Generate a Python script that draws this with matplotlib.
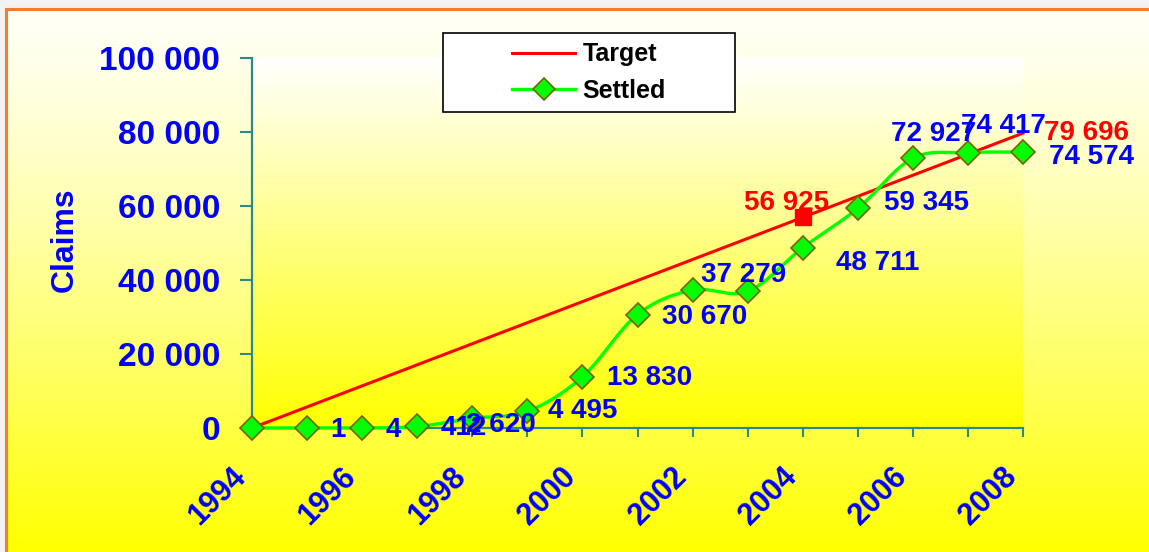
import numpy as np
import matplotlib
matplotlib.use("Agg")
import matplotlib.pyplot as plt
from matplotlib.lines import Line2D
from matplotlib.patches import Rectangle

# ---------------- data ----------------
years = [1994, 1995, 1996, 1997, 1998, 1999, 2000, 2001,
         2002, 2003, 2004, 2005, 2006, 2007, 2008]
settled = [0, 1, 4, 412, 2620, 4495, 13830, 30670,
           37279, 36900, 48711, 59345, 72927, 74417, 74574]
settled_labels = ["", "1", "4", "412", "2 620", "4 495", "13 830", "30 670",
                  "37 279", "", "48 711", "59 345", "72 927", "74 417", "74 574"]
target_years = [1994, 2004, 2008]
target = [0, 56925, 79696]
target_labels = ["", "56 925", "79 696"]
y_ticks = [0, 20000, 40000, 60000, 80000, 100000]
y_tick_labels = ["0", "20 000", "40 000", "60 000", "80 000", "100 000"]
x_tick_labels = ["1994", "", "1996", "", "1998", "", "2000", "",
                 "2002", "", "2004", "", "2006", "", "2008"]
y_title = "Claims"
series_names = ["Target", "Settled"]

# label offsets in pixels (placement only)
settled_offsets = [(0, 0), (23, -2), (23, -2), (23, -2), (-6, -7), (21, 0),
                   (25, -1), (25, -2), (8, 15), (0, 0), (33, -15), (26, 5),
                   (-22, 24), (-7, 27), (26, -5)]
target_offsets = [(0, 0), (-59, 14), (21, 0)]

W, H = 1149, 552
BLUE = "#0000FF"
TEAL = "#2a8a8a"
FONT = ["Liberation Sans", "DejaVu Sans"]
plt.rcParams["font.family"] = FONT

fig = plt.figure(figsize=(W / 100, H / 100), dpi=100, facecolor="#f2f2f2")

# figure background gradient (white -> yellow), starting inside the orange border
bx0, by0 = 6, 9
bg = fig.add_axes([bx0 / W, 0, 1 - bx0 / W, 1 - by0 / H], zorder=-10)
f = np.linspace(0, 1, 256) ** 1.25
grad = np.ones((256, 1, 3))
grad[:, 0, 2] = np.clip(0.97 * (1 - f), 0, 1)
bg.imshow(grad, aspect="auto", extent=[0, 1, 0, 1], origin="upper")
bg.set_xlim(0, 1)
bg.set_ylim(0, 1)
bg.axis("off")

# orange border
fig.add_artist(Line2D([bx0 / W, 1], [1 - by0 / H] * 2, transform=fig.transFigure,
                      color="#fb7a2a", lw=2.2))
fig.add_artist(Line2D([bx0 / W] * 2, [0, 1 - by0 / H], transform=fig.transFigure,
                      color="#fb7a2a", lw=2.2))

# main axes
L, R, T, B = 252, 1023, 58, 428
ax = fig.add_axes([L / W, 1 - B / H, (R - L) / W, (B - T) / H])
ax.set_xlim(years[0], years[-1])
ax.set_ylim(0, 100000)
ax.patch.set_alpha(0)

# plot-area gradient
g2 = np.ones((256, 1, 3))
g2[:, 0, 2] = 1 - np.linspace(0, 1, 256)
ax.imshow(g2, aspect="auto", extent=[years[0], years[-1], 0, 100000],
          origin="upper", zorder=0)

# target line
ax.plot(target_years, target, color="#ff0000", lw=2.2, zorder=3, clip_on=False)
ax.plot(target_years[1:2], target[1:2], "s", color="#ff0000", ms=12,
        zorder=4, clip_on=False)


# smoothed settled line (Catmull-Rom through the data points)
def smooth(xs, ys, n=30):
    P = np.column_stack([xs, ys]).astype(float)
    P = np.vstack([P[0], P, P[-1]])
    out = []
    t = np.linspace(0, 1, n)[:, None]
    for i in range(1, len(P) - 2):
        p0, p1, p2, p3 = P[i - 1], P[i], P[i + 1], P[i + 2]
        c1 = p1 + (p2 - p0) / 6
        c2 = p2 - (p3 - p1) / 6
        seg = ((1 - t) ** 3) * p1 + 3 * ((1 - t) ** 2) * t * c1 + \
            3 * (1 - t) * t ** 2 * c2 + t ** 3 * p2
        out.append(seg if i == 1 else seg[1:])
    out = np.vstack(out)
    return out[:, 0], out[:, 1]


sx, sy = smooth(years, settled)
ax.plot(sx, sy, color="#00ff00", lw=2.4, zorder=5, clip_on=False)
ax.plot(years, settled, "D", ms=12, mfc="#00ff00", mec="#7a6200", mew=1.2,
        zorder=6, clip_on=False)

# data labels
for xv, yv, lab, off in zip(years, settled, settled_labels, settled_offsets):
    if lab:
        ax.annotate(lab, (xv, yv), xytext=off, textcoords="offset pixels",
                    ha="left", va="center", color=BLUE, fontsize=20,
                    fontweight="bold", zorder=8, annotation_clip=False)
for xv, yv, lab, off in zip(target_years, target, target_labels, target_offsets):
    if lab:
        ax.annotate(lab, (xv, yv), xytext=off, textcoords="offset pixels",
                    ha="left", va="center", color="#ff0000", fontsize=20,
                    fontweight="bold", zorder=7, annotation_clip=False)

# axes styling
for s in ["top", "right"]:
    ax.spines[s].set_visible(False)
for s in ["left", "bottom"]:
    ax.spines[s].set_color(TEAL)
    ax.spines[s].set_linewidth(1.6)
    ax.spines[s].set_zorder(2)
ax.set_yticks(y_ticks)
ax.set_yticklabels(y_tick_labels)
ax.set_xticks(years)
ax.set_xticklabels(x_tick_labels, rotation=45, ha="right", va="top")
ax.tick_params(axis="y", direction="out", length=9, width=1.5, color=TEAL,
               pad=14, labelsize=24, labelcolor=BLUE)
ax.tick_params(axis="x", direction="out", length=6.5, width=1.5, color=TEAL,
               pad=18, labelsize=22, labelcolor=BLUE)
for t in ax.get_yticklabels() + ax.get_xticklabels():
    t.set_fontweight("bold")

fig.text(65 / W, 1 - 240 / H, y_title, rotation=90, ha="center", va="center",
         color=BLUE, fontsize=23, fontweight="bold")

# legend
lx0, ly0, lx1, ly1 = 443, 33, 735, 112
fig.add_artist(Rectangle((lx0 / W, 1 - ly1 / H), (lx1 - lx0) / W, (ly1 - ly0) / H,
                         transform=fig.transFigure, facecolor="white",
                         edgecolor="black", lw=1.2, zorder=9))
handles = [Line2D([], [], color="#ff0000", lw=2.2),
           Line2D([], [], color="#00ff00", lw=2.4, marker="D", ms=11,
                  mfc="#00ff00", mec="#7a6200", mew=1.2)]
leg = fig.legend(handles, series_names, loc="center",
                 bbox_to_anchor=((lx0 + lx1) / 2 / W, 1 - (ly0 + ly1) / 2 / H),
                 frameon=False, handlelength=2.5, handletextpad=0.3,
                 labelspacing=0.5, prop={"size": 18, "weight": "bold"})
leg.set_zorder(10)

fig.savefig("out.png", dpi=100)
